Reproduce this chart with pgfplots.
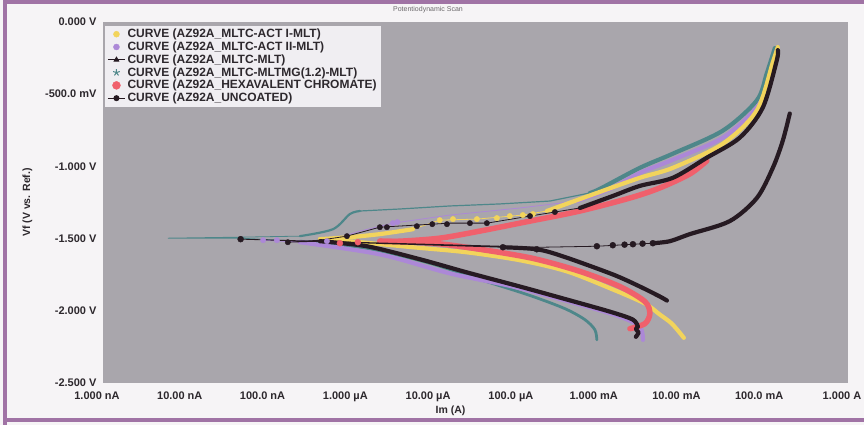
\documentclass[border=0pt]{standalone}
\usepackage{pgfplots}
\pgfplotsset{compat=1.18}
\usepackage{fontspec}
\setmainfont{Liberation Sans}
\definecolor{plotgray}{RGB}{169,166,172}
\definecolor{bgcol}{RGB}{246,244,246}
\definecolor{legendbg}{RGB}{240,238,242}
\definecolor{framecol}{RGB}{160,115,165}
\definecolor{tickcol}{RGB}{45,40,45}
\definecolor{cyellow}{RGB}{242,212,92}
\definecolor{cpurple}{RGB}{172,136,215}
\definecolor{cblack}{RGB}{38,26,34}
\definecolor{cteal}{RGB}{78,135,138}
\definecolor{cred}{RGB}{240,96,108}
\pgfplotsset{
  thk/.style={line width=4.2pt, no marks, forget plot, line cap=round, line join=round, smooth, tension=0.5},
  thn/.style={line width=0.8pt, no marks, forget plot},
  dts/.style={only marks, mark=*, mark size=2.7pt, forget plot},
}
\begin{document}
\begin{tikzpicture}
\fill[bgcol] (-103pt,-42pt) rectangle (761pt,383pt);
\begin{axis}[
  scale only axis, width=745pt, height=361pt,
  xmode=log, xmin=1e-9, xmax=1, ymin=-2.5, ymax=0,
  axis background/.style={fill=plotgray},
  axis line style={draw=none},
  tick style={draw=none},
  xtick={1e-9,1e-8,1e-7,1e-6,1e-5,1e-4,1e-3,1e-2,1e-1,1},
  xticklabels={1.000 nA,10.00 nA,100.0 nA,1.000 µA,10.00 µA,100.0 µA,1.000 mA,10.00 mA,100.0 mA,1.000 A},
  ytick={0,-0.5,-1,-1.5,-2,-2.5},
  yticklabels={0.000 V,-500.0 mV,-1.000 V,-1.500 V,-2.000 V,-2.500 V},
  tick label style={font=\bfseries\fontsize{11}{13}\selectfont, text=tickcol},
  xticklabel style={yshift=-5pt, xshift=-6pt},
  yticklabel style={xshift=-3pt},
  xlabel={Im (A)}, ylabel={Vf (V vs. Ref.)},
  label style={font=\bfseries\fontsize{10.5}{12}\selectfont, text=tickcol},
  xlabel style={xshift=-25pt, yshift=2pt},
  ylabel style={yshift=6pt},
  legend cell align=left,
  legend style={at={(0.003,0.99)}, anchor=north west, draw=none, fill=legendbg,
    inner xsep=2pt, inner ysep=2pt, font=\bfseries\fontsize{12}{14}\selectfont,
    text=tickcol, nodes={inner ysep=1.3pt}},
]
% ---------- MLTC-MLTMG(1.2)-MLT (teal)
\addplot[thk, cteal, line width=2.8pt] coordinates {(9.25e-4,-2.201) (8.75e-4,-2.131) (6.62e-4,-2.061) (3.80e-4,-1.985) (1.44e-4,-1.894) (3.57e-5,-1.783) (8.89e-6,-1.671) (1.54e-6,-1.567) (2.39e-7,-1.518)};
\addplot[thn, cteal] coordinates {(2.39e-7,-1.518) (4.6e-8,-1.497) (6.1e-9,-1.497) (4.6e-8,-1.490) (2.39e-7,-1.483)};
\addplot[thk, cteal, line width=2.2pt] coordinates {(2.39e-7,-1.483) (6.0e-7,-1.435) (9.6e-7,-1.330) (1.27e-6,-1.309)};
\addplot[thn, cteal, line width=1.2pt, mark=star, mark size=2pt, mark repeat=1] coordinates {(1.27e-6,-1.309) (3.86e-6,-1.295) (1.55e-5,-1.274) (6.23e-5,-1.260) (2.50e-4,-1.240) (7.62e-4,-1.184)};
\addplot[thk, cteal] coordinates {(7.62e-4,-1.184) (1.005e-3,-1.156) (3.06e-3,-1.010) (7.66e-3,-0.912) (3.08e-2,-0.752) (7.92e-2,-0.543) (0.1045,-0.355) (0.1306,-0.181)};
% ---------- MLTC-ACT II-MLT (purple)
\addplot[thk, cpurple] coordinates {(3.33e-3,-2.201) (3.06e-3,-2.110) (1.75e-3,-2.040) (5.77e-4,-1.957) (8.95e-5,-1.832) (1.55e-5,-1.741) (2.21e-6,-1.609) (2.39e-7,-1.525)};
\addplot[thn, cpurple] coordinates {(2.39e-7,-1.525) (8.6e-8,-1.511) (5.07e-7,-1.518) (1.27e-6,-1.448) (3.18e-6,-1.393) (1.55e-5,-1.337) (1.09e-4,-1.288) (5.31e-4,-1.240)};
\addplot[dts, cpurple] coordinates {(8.6e-8,-1.511) (1.26e-7,-1.511) (5.07e-7,-1.518) (3.18e-6,-1.393) (3.6e-6,-1.386)};
\addplot[thk, cpurple] coordinates {(5.31e-4,-1.240) (1.33e-3,-1.156) (3.06e-3,-1.045) (7.66e-3,-0.954) (3.08e-2,-0.801) (7.92e-2,-0.592) (0.1137,-0.404) (0.138,-0.195)};
% ---------- MLTC-ACT I-MLT (yellow)
\addplot[thk, cyellow] coordinates {(1.04e-2,-2.187) (7.45e-3,-2.089) (5.33e-3,-2.026) (3.52e-3,-1.950) (1.44e-3,-1.852) (4.02e-4,-1.727) (1.09e-4,-1.650) (2.49e-5,-1.595) (5.55e-6,-1.560) (1.27e-6,-1.525) (4.18e-7,-1.504)};
\addplot[thk, cyellow, smooth=false] coordinates {(4.18e-7,-1.504) (9.6e-7,-1.490) (2.21e-6,-1.469) (5.55e-6,-1.435)};
\addplot[thn, cyellow] coordinates {(5.55e-6,-1.435) (1.17e-5,-1.372) (3.29e-5,-1.365) (1.18e-4,-1.337) (2.30e-4,-1.309)};
\addplot[dts, cyellow] coordinates {(1.17e-5,-1.372) (1.69e-5,-1.365) (3.29e-5,-1.365) (5.73e-5,-1.358) (8.22e-5,-1.344) (1.18e-4,-1.337) (1.56e-4,-1.330)};
\addplot[thk, cyellow] coordinates {(2.30e-4,-1.309) (9.25e-4,-1.184) (3.06e-3,-1.079) (7.66e-3,-1.010) (3.08e-2,-0.843) (7.92e-2,-0.613) (0.1236,-0.279) (0.142,-0.174)};
% ---------- HEXAVALENT CHROMATE (red)
\addplot[thk, cred, line width=5.5pt] coordinates {(2.32e-3,-2.124) (3.52e-3,-2.089) (4.04e-3,-2.019) (3.52e-3,-1.936) (1.75e-3,-1.832) (5.77e-4,-1.727) (1.56e-4,-1.637) (3.57e-5,-1.574) (9.68e-6,-1.532) (2.21e-6,-1.518)};
\addplot[dts, cred, mark size=3pt] coordinates {(7.28e-7,-1.532) (1.2e-6,-1.525)};
\addplot[thk, cred, line width=5.5pt] coordinates {(2.21e-6,-1.518) (3.86e-6,-1.518) (1.17e-5,-1.497) (3.57e-5,-1.448) (1.44e-4,-1.379) (5.77e-4,-1.309) (2.32e-3,-1.219) (5.33e-3,-1.149) (1.23e-2,-1.052) (1.97e-2,-0.961)};
% ---------- MLTC-MLT (black)
\addplot[thk, cblack, smooth=false] coordinates {(2.74e-3,-2.180) (2.95e-3,-2.150) (2.74e-3,-2.128) (2.89e-3,-2.110)};
\addplot[thk, cblack] coordinates {(2.89e-3,-2.110) (2.52e-3,-2.061) (1.33e-3,-2.006) (4.02e-4,-1.922) (1.09e-4,-1.832) (2.49e-5,-1.734) (6.74e-6,-1.643) (1.54e-6,-1.553) (4.18e-7,-1.518)};
\addplot[thn, cblack] coordinates {(4.18e-7,-1.518) (1.71e-7,-1.525) (4.18e-7,-1.511) (8.85e-7,-1.483) (2.21e-6,-1.421) (1.55e-5,-1.393) (4.34e-5,-1.393) (1.44e-4,-1.344) (5.77e-4,-1.288)};
\addplot[dts, cblack] coordinates {(1.71e-7,-1.525) (8.85e-7,-1.483) (2.21e-6,-1.421) (2.69e-6,-1.421) (6.19e-6,-1.414) (9.5e-6,-1.400) (1.43e-5,-1.400) (2.71e-5,-1.393) (4.34e-5,-1.393) (1.44e-4,-1.344) (2.88e-4,-1.316)};
\addplot[thk, cblack] coordinates {(5.77e-4,-1.288) (1.44e-3,-1.205) (3.06e-3,-1.135) (7.66e-3,-1.079) (1.97e-2,-0.940) (4.93e-2,-0.801) (9.36e-2,-0.592) (0.138,-0.265) (0.142,-0.195)};
% ---------- UNCOATED (black)
\addplot[thk, cblack] coordinates {(6.49e-3,-1.929) (5.33e-3,-1.901) (3.06e-3,-1.832) (1.44e-3,-1.748) (3.60e-4,-1.623) (1.74e-4,-1.574) (6.78e-5,-1.560)};
\addplot[thn, cblack] coordinates {(6.78e-5,-1.560) (4.6e-8,-1.504) (6.78e-5,-1.553) (1.90e-4,-1.560) (9.25e-4,-1.553) (4.39e-3,-1.532)};
\addplot[dts, cblack, mark size=3pt] coordinates {(4.6e-8,-1.504) (6.78e-5,-1.560) (1.74e-4,-1.574) (9.25e-4,-1.553) (1.44e-3,-1.546) (2.0e-3,-1.542) (2.52e-3,-1.539) (3.3e-3,-1.535) (4.39e-3,-1.532)};
\addplot[thk, cblack] coordinates {(4.39e-3,-1.532) (7.05e-3,-1.518) (1.23e-2,-1.469) (3.73e-2,-1.379) (7.92e-2,-1.219) (0.1236,-1.010) (0.163,-0.822) (0.198,-0.634)};
% ---------- legend
\addlegendimage{only marks, mark=*, mark size=3pt, cyellow}
\addlegendentry{CURVE (AZ92A\_MLTC-ACT I-MLT)}
\addlegendimage{only marks, mark=*, mark size=3pt, cpurple}
\addlegendentry{CURVE (AZ92A\_MLTC-ACT II-MLT)}
\addlegendimage{cblack, line width=1pt, mark=triangle*, mark size=2.5pt}
\addlegendentry{CURVE (AZ92A\_MLTC-MLT)}
\addlegendimage{only marks, mark=star, mark size=3.5pt, cteal, line width=1pt}
\addlegendentry{CURVE (AZ92A\_MLTC-MLTMG(1.2)-MLT)}
\addlegendimage{only marks, mark=*, mark size=4pt, cred}
\addlegendentry{CURVE (AZ92A\_HEXAVALENT CHROMATE)}
\addlegendimage{cblack, line width=1pt, mark=*, mark size=2.5pt}
\addlegendentry{CURVE (AZ92A\_UNCOATED)}
\end{axis}
\begin{scope}[shift={(-103pt,383pt)}, x=1pt, y=-1pt]
  \node[font=\fontsize{7}{8}\selectfont, text=tickcol!70] at (428,10) {Potentiodynamic Scan};
  \draw[framecol, line width=4pt] (5,425) -- (5,2) -- (864,2);
  \draw[framecol, line width=4pt] (5,420) -- (864,420);
\end{scope}
\pgfresetboundingbox
\useasboundingbox (-103pt,-42pt) rectangle (761pt,383pt);
\end{tikzpicture}
\end{document}
